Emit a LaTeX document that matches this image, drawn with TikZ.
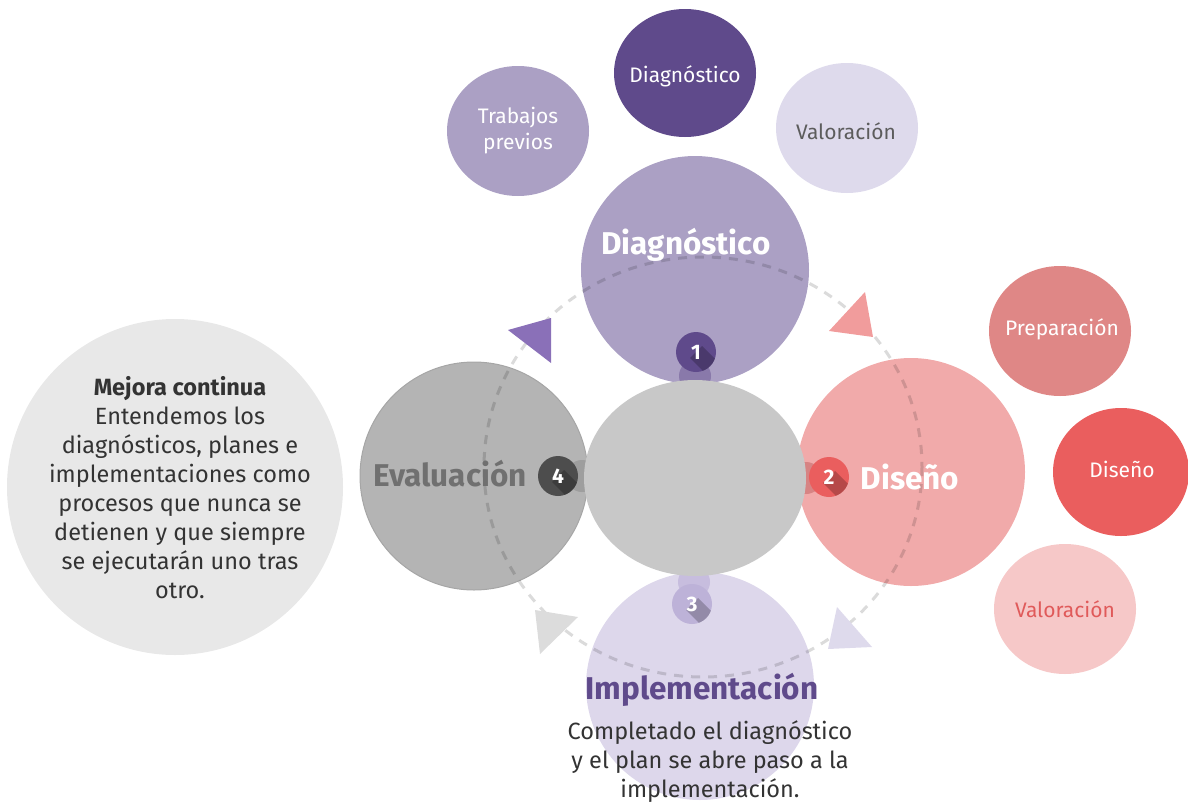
\documentclass[tikz,border=0pt]{standalone}
\usepackage{fontspec}
\setmainfont{Fira Sans}
\usetikzlibrary{shapes.geometric,positioning}
\definecolor{lila}{HTML}{ABA0C4}
\definecolor{lilaDark}{HTML}{5F4A8B}
\definecolor{lilaLight}{HTML}{DEDAEC}
\definecolor{lilaPale}{HTML}{DDD7EB}
\definecolor{lilaArrow}{HTML}{8A70B8}
\definecolor{lilaBadge}{HTML}{BDB2D8}
\definecolor{rosa}{HTML}{F1AAAA}
\definecolor{rosaMid}{HTML}{DF8786}
\definecolor{rosaDark}{HTML}{EA5E5E}
\definecolor{rosaLight}{HTML}{F6C8C8}
\definecolor{rosaArrow}{HTML}{F19C9C}
\definecolor{rosaText}{HTML}{E05A5A}
\definecolor{gris}{HTML}{B4B4B4}
\definecolor{grisEdge}{HTML}{A6A6A6}
\definecolor{grisCenter}{HTML}{C8C8C8}
\definecolor{grisLight}{HTML}{E8E8E8}
\definecolor{grisArrow}{HTML}{DCDCDC}
\definecolor{grisDark}{HTML}{4D4D4D}
\definecolor{grisText}{HTML}{707070}
\definecolor{texto}{HTML}{333333}

\begin{document}
\begin{tikzpicture}[x=1pt, y=-1pt,
  big/.style={circle, minimum size=228pt, inner sep=0pt},
  bubble/.style={ellipse, minimum width=142pt, minimum height=130pt, inner sep=0pt},
  bubbletext/.style={align=center, font=\fontsize{21}{26}\selectfont},
  title/.style={font=\fontsize{31.5}{36}\selectfont\bfseries},
  body/.style={align=center, text=texto, font=\fontsize{23.5}{29}\selectfont},
  badge/.style={circle, minimum size=40pt, inner sep=0pt},
  digit/.style={text=white, font=\fontsize{21}{21}\selectfont\bfseries},
  tab/.style={circle, minimum size=32pt, inner sep=0pt},
  ring/.style={draw=black, draw opacity=0.14, line width=3pt,
               dash pattern=on 9pt off 8pt},
]
\useasboundingbox (0,0) rectangle (1188,803);

% mejora continua
\node[circle, fill=grisLight, minimum size=336pt, inner sep=0pt] (mejora) at (175,487) {};

% small bubbles
\node[bubble, fill=lila] (previos) at (518,131) {};
\node[bubble, fill=lilaDark, minimum height=128pt] (diagsmall) at (685,73) {};
\node[bubble, fill=lilaLight] (valtop) at (847,128) {};
\node[bubble, fill=rosaMid] (prep) at (1060,331) {};
\node[bubble, fill=rosaDark, minimum width=136pt, minimum height=128pt] (disesmall) at (1121,472) {};
\node[bubble, fill=rosaLight] (valright) at (1065,609) {};

\node[bubbletext, text=white] (tprevios) at (previos) {Trabajos\\previos};
\node[bubbletext, text=white] (tdiagsmall) at (685,76) {Diagnóstico};
\node[bubbletext, text=texto!80] (tvaltop) at (846,131) {Valoración};
\node[bubbletext, text=white] (tprep) at (1062,329) {Preparación};
\node[bubbletext, text=white] (tdisesmall) at (1122,469) {Diseño};
\node[bubbletext, text=rosaText] (tvalright) at (valright) {Valoración};

% big circles
\node[big, fill=lila] (diag) at (695,270) {};
\node[big, fill=rosa] (dise) at (911,472) {};
\node[big, fill=gris, draw=grisEdge, line width=1pt] (eval) at (474,476) {};
\node[big, fill=lilaPale] (impl) at (700,686) {};

% tabs
\node[tab, fill=lilaDark!45!lila] (tab1) at (695,376) {};
\node[tab, fill=rosaDark!30!rosa!90!black] (tab2) at (806,478) {};
\node[tab, fill=lilaBadge!70!lilaPale] (tab3) at (694,582) {};
\node[tab, fill=grisEdge!95!black] (tab4) at (582,476) {};

\node[ellipse, fill=grisCenter, minimum width=222pt, minimum height=196pt] (centro) at (695,478) {};

% dashed cycle
\draw[ring] (703,467) ellipse (219 and 210);
\fill[lilaArrow] (508,330) -- (551,318) -- (551,363) -- cycle;
\fill[rosaArrow] (829,331) -- (865,292) -- (873,337) -- cycle;
\fill[lilaLight] (828,649) -- (837,607) -- (872,647) -- cycle;
\fill[grisArrow] (535,610) -- (578,617) -- (540,654) -- cycle;

% badges
\foreach \n/\col/\pos in {1/lilaDark/{(696,352)}, 2/rosaDark/{(829,477)},
                          3/lilaBadge/{(692,604)}, 4/grisDark/{(558,476)}} {
  \node[badge, fill=\col] (b\n) at \pos {};
  \begin{scope}
    \clip (b\n.center) circle (20);
    \fill[black, opacity=0.22, shift={(b\n.center)}]
      (6,-6) -- (-6,6) -- (24,36) -- (36,24) -- cycle;
  \end{scope}
  \node[digit] (d\n) at (b\n) {\n};
}

% titles
\node[title, text=white] (tdiag) at (686,245) {Diagnóstico};
\node[title, text=white] (tdise) at (910,477) {Diseño};
\node[title, text=grisText] (teval) at (450,474) {Evaluación};
\node[title, text=lilaDark] (timpl) at (702,690) {Implementación};

\node[body] (tcomp) at (710,762) {Completado el diagnóstico\\y el plan se abre paso a la\\implementación.};
\node[body] (tmejora) at (180,488) {\textbf{Mejora continua}\\Entendemos los\\diagnósticos, planes e\\implementaciones como\\procesos que nunca se\\detienen y que siempre\\se ejecutarán uno tras\\otro.};

\end{tikzpicture}
\end{document}
